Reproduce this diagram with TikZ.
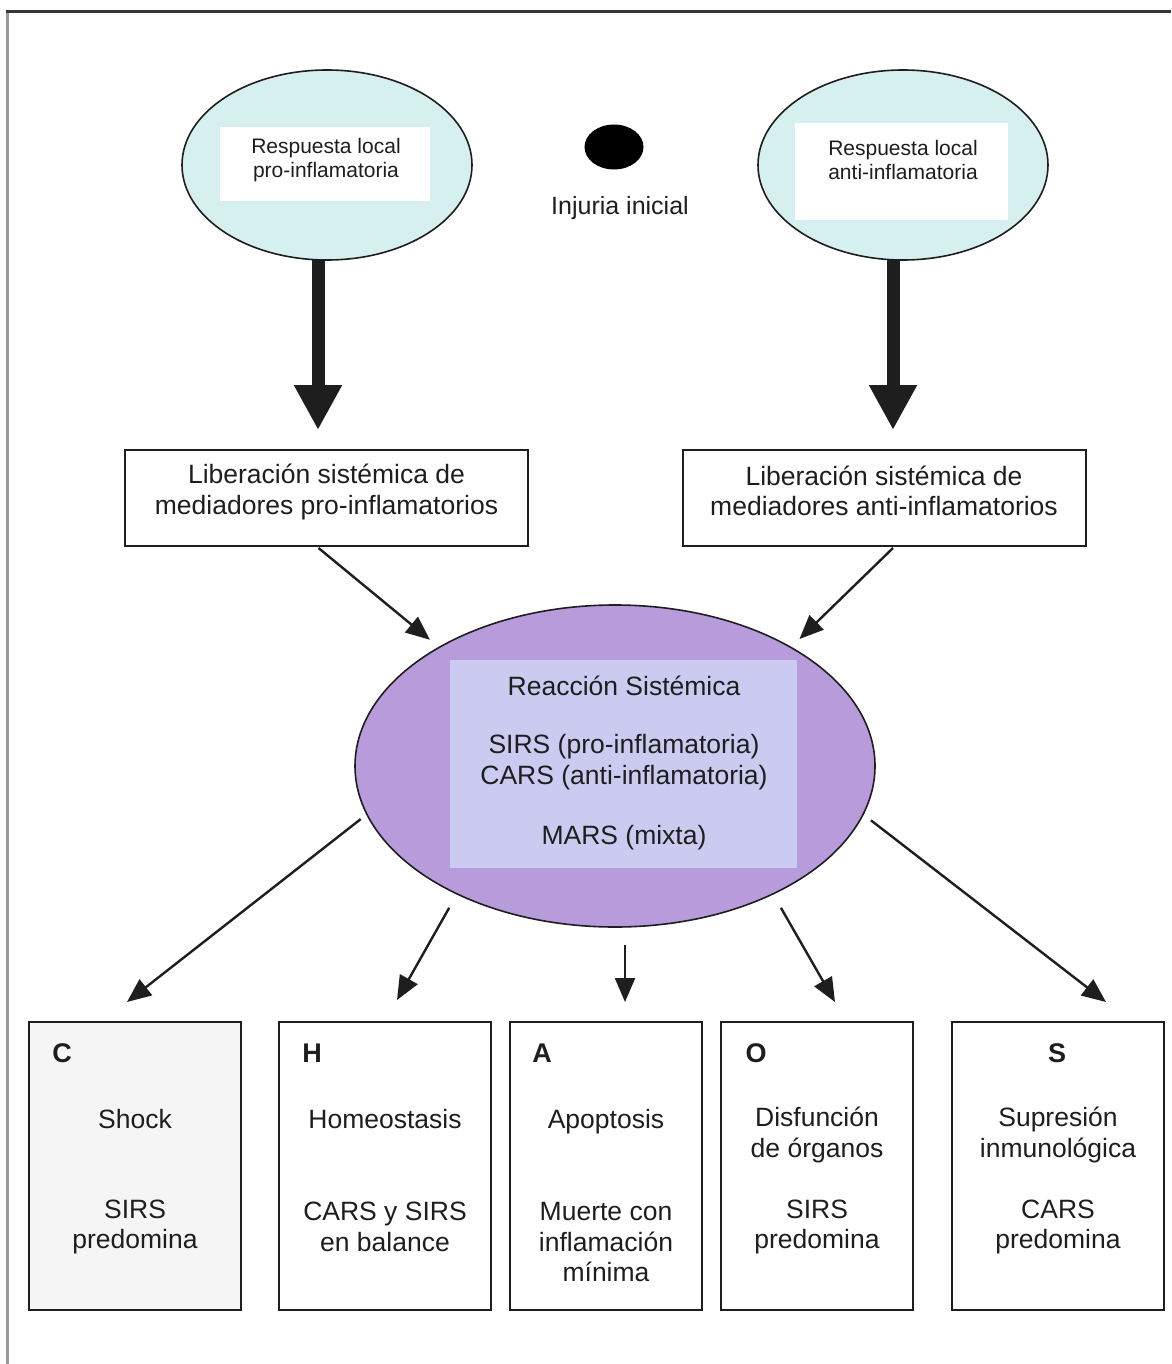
\documentclass[tikz,border=0pt]{standalone}
\usepackage{fontspec}
\setmainfont{Liberation Sans}
\usetikzlibrary{shapes.geometric,arrows.meta}
\definecolor{ink}{HTML}{1E1E1E}
\definecolor{localfill}{HTML}{D6EFEF}
\definecolor{sysfill}{HTML}{B79BDB}
\definecolor{syscore}{HTML}{CBCBF1}
\definecolor{edgegray}{HTML}{9A9A9A}

\begin{document}
\begin{tikzpicture}[x=1pt,y=-1pt,
  every node/.style={inner sep=0pt, outer sep=0pt},
  txt/.style={font=\fontsize{26.5}{30.5}\selectfont, text=ink, align=center},
  smalltxt/.style={font=\fontsize{21}{24}\selectfont, text=ink, align=center},
  letter/.style={font=\fontsize{27}{30}\selectfont\bfseries, text=ink},
  localell/.style={ellipse, draw=ink, line width=1.6pt, fill=localfill,
    minimum width=290pt, minimum height=190pt},
  panel/.style={fill=white},
  relbox/.style={draw=ink, line width=2pt, fill=white,
    minimum width=403pt, minimum height=96pt},
  outbox/.style={draw=ink, line width=2pt, fill=white,
    minimum height=288pt},
  bigarrow/.style={draw=ink, line width=13pt, -{Triangle[length=45pt,width=45pt]}},
  arr/.style={draw=ink, line width=2.4pt, -{Triangle[length=24pt,width=20pt]}}
]
\useasboundingbox (0,0) rectangle (1171,1364);
\fill[white] (0,0) rectangle (1171,1364);

% page frame
\draw[edgegray, line width=3pt] (7,12) -- (7,1364);
\draw[ink!90, line width=3pt] (6,12) -- (1171,12);

% local responses
\node[localell] (lell) at (327,165) {};
\node[panel, minimum width=210pt, minimum height=74pt] (lpanel) at (325,164) {};
\node[smalltxt] (ltxt) at (326,160) {Respuesta local\\pro-inflamatoria};

\node[localell] (rell) at (903,165) {};
\node[panel, minimum width=213pt, minimum height=97pt] (rpanel) at (901.5,171.5) {};
\node[smalltxt] (rtxt) at (903,160) {Respuesta local\\anti-inflamatoria};

% initial injury
\node[ellipse, fill=black, minimum width=59pt, minimum height=45pt] (dot) at (614,147) {};
\node[txt, font=\fontsize{25}{28}\selectfont] (injury) at (620,208) {Injuria inicial};

% systemic release boxes
\node[relbox] (lbox) at (326.5,498) {};
\node[txt] (lboxtxt) at (326.5,492) {Liberación sistémica de\\mediadores pro-inflamatorios};
\node[relbox] (rbox) at (884,498) {};
\node[txt] (rboxtxt) at (884,491) {Liberación sistémica de\\mediadores anti-inflamatorios};

% systemic reaction
\node[ellipse, draw=ink, line width=1.6pt, fill=sysfill,
  minimum width=520pt, minimum height=322pt] (sys) at (615,766) {};
\node[fill=syscore, minimum width=347pt, minimum height=208pt] (core) at (623.5,764) {};
\node[txt] (systitle) at (624,686) {Reacción Sistémica};
\node[txt] (sysrs) at (624,762) {SIRS (pro-inflamatoria)\\CARS (anti-inflamatoria)};
\node[txt] (sysmars) at (624,838) {MARS (mixta)};

% outcomes
\node[outbox, minimum width=212pt, fill=black!4] (C) at (135,1166) {};
\node[outbox, minimum width=212pt] (H) at (385,1166) {};
\node[outbox, minimum width=192pt] (A) at (606,1166) {};
\node[outbox, minimum width=192pt] (O) at (817,1166) {};
\node[outbox, minimum width=212pt] (S) at (1058,1166) {};

\node[letter] (Cl) at (62,1053) {C};
\node[letter] (Hl) at (312,1053) {H};
\node[letter] (Al) at (542,1053) {A};
\node[letter] (Ol) at (756,1053) {O};
\node[letter] (Sl) at (1057,1053) {S};

\node[txt] (Ct) at (135,1119) {Shock};
\node[txt] (Cs) at (135,1227) {SIRS\\predomina};
\node[txt] (Ht) at (385,1119) {Homeostasis};
\node[txt] (Hs) at (385,1227) {CARS y SIRS\\en balance};
\node[txt] (At) at (606,1122) {Apoptosis};
\node[txt] (As) at (606,1242) {Muerte con\\inflamación\\mínima};
\node[txt] (Ot) at (817,1135) {Disfunción\\de órganos};
\node[txt] (Os) at (817,1227) {SIRS\\predomina};
\node[txt] (St) at (1058,1135) {Supresión\\inmunológica};
\node[txt] (Ss) at (1058,1227) {CARS\\predomina};

% connectors
\draw[bigarrow] ([xshift=-9pt]lell.south) -- ([shift={(-8.5,-20)}]lbox.north);
\draw[bigarrow] ([xshift=-10pt]rell.south) -- ([shift={(9,-20)}]rbox.north);

\draw[arr, shorten >=12pt] ([shift={(-8,2)}]lbox.south) -- (sys.146);
\draw[arr, shorten >=12pt] ([shift={(9,2)}]rbox.south) -- (sys.34);

\draw[arr, shorten <=8pt] (sys.191) -- ([shift={(-8,-20)}]C.north);
\draw[arr, shorten <=16pt] (sys.219) -- ([shift={(12,-22)}]H.north);
\draw[arr, shorten <=18pt] ([xshift=10pt]sys.south) -- ([shift={(19,-20)}]A.north);
\draw[arr, shorten <=16pt] (sys.321) -- ([shift={(18,-20)}]O.north);
\draw[arr, shorten <=10pt] (sys.349) -- ([shift={(48,-20)}]S.north);
\end{tikzpicture}
\end{document}
